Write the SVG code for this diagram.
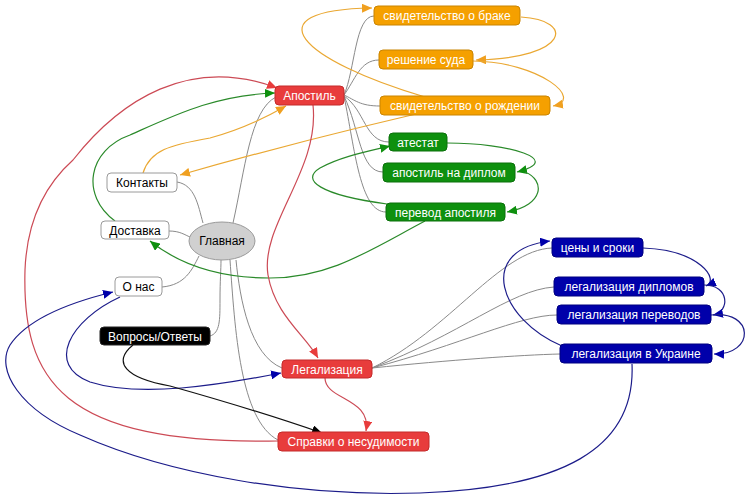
<svg xmlns="http://www.w3.org/2000/svg" width="751" height="498" viewBox="0 0 751 498">
<style>
text{font-family:"Liberation Sans",Arial,sans-serif;font-size:12px;text-anchor:middle}
.t{fill:#fff}
.k{fill:#000}
.g{fill:none;stroke:#8a8a8a;stroke-width:1}
.c{fill:none;stroke-width:1.2}
.or{stroke:#eaa833}
.rd{stroke:#cc4a55}
.gr{stroke:#2a8a2a}
.bl{stroke:#1c1c8a}
.bk{stroke:#111}
.n-or{fill:#f5a000;stroke:#c98400}
.n-rd{fill:#e83c3c;stroke:#c42a2a}
.n-gr{fill:#0e900e;stroke:#0a700a}
.n-bl{fill:#0000aa;stroke:#000080}
.n-bk{fill:#000;stroke:#222}
.n-wh{fill:#fff;stroke:#9a9a9a}
</style>
<defs>
<marker id="a-or" markerUnits="userSpaceOnUse" markerWidth="11" markerHeight="9" refX="10" refY="4.5" orient="auto"><path d="M0,0L10,4.5L0,9z" fill="#f0a020"/></marker>
<marker id="a-rd" markerUnits="userSpaceOnUse" markerWidth="11" markerHeight="9" refX="10" refY="4.5" orient="auto"><path d="M0,0L10,4.5L0,9z" fill="#e83c3c"/></marker>
<marker id="a-gr" markerUnits="userSpaceOnUse" markerWidth="11" markerHeight="9" refX="10" refY="4.5" orient="auto"><path d="M0,0L10,4.5L0,9z" fill="#0e900e"/></marker>
<marker id="a-bl" markerUnits="userSpaceOnUse" markerWidth="11" markerHeight="9" refX="10" refY="4.5" orient="auto"><path d="M0,0L10,4.5L0,9z" fill="#0000aa"/></marker>
<marker id="a-bk" markerUnits="userSpaceOnUse" markerWidth="11" markerHeight="9" refX="10" refY="4.5" orient="auto"><path d="M0,0L10,4.5L0,9z" fill="#000"/></marker>
</defs>
<rect width="751" height="498" fill="#fff"/>
<g id="connectors">
<!-- tree lines from Главная -->
<path class="g" d="M177,182 C195,185 198,205 203,223"/>
<path class="g" d="M169,231 C180,231 185,235 190,237"/>
<path class="g" d="M162,287 C185,285 192,270 199,256"/>
<path class="g" d="M210,336 C220,333 220,320 220,300 C220,280 221,270 221,260"/>
<path class="g" d="M233,223 C245,170 250,110 276,97"/>
<path class="g" d="M236,260 C240,300 250,355 282,368"/>
<path class="g" d="M230,260 C235,330 240,420 278,440"/>
<!-- from Апостиль -->
<path class="g" d="M344,95 C355,70 355,16 374,16"/>
<path class="g" d="M344,95 C355,80 360,60 379,60"/>
<path class="g" d="M344,95 C355,100 360,106 380,106"/>
<path class="g" d="M344,96 C365,110 365,142 389,142"/>
<path class="g" d="M344,96 C360,130 360,172 383,172"/>
<path class="g" d="M344,96 C355,150 360,212 386,212"/>
<!-- from Легализация -->
<path class="g" d="M372,368 C450,330 500,250 552,248"/>
<path class="g" d="M372,368 C460,335 510,290 554,287"/>
<path class="g" d="M372,368 C460,345 520,315 557,315"/>
<path class="g" d="M372,368 C450,360 520,355 560,354"/>
<!-- orange -->
<path class="c or" marker-end="url(#a-or)" d="M425,97 C300,60 250,10 372,8"/>
<path class="c or" marker-end="url(#a-or)" d="M521,17 C575,20 570,58 476,60"/>
<path class="c or" marker-end="url(#a-or)" d="M473,61 C540,62 585,100 553,106"/>
<path class="c or" marker-end="url(#a-or)" d="M465,103 Q320,135 180,175"/>
<path class="c or" marker-end="url(#a-or)" d="M143,173 C150,150 170,145 210,138 C240,130 265,118 286,106"/>
<!-- green -->
<path class="c gr" marker-end="url(#a-gr)" d="M115,221 C80,195 88,150 130,135 C175,115 215,95 275,93"/>
<path class="c gr" marker-end="url(#a-gr)" d="M425,221 C370,250 330,278 270,278 C220,278 180,265 150,241"/>
<path class="c gr" marker-end="url(#a-gr)" d="M447,143 C510,143 565,160 517,172"/>
<path class="c gr" marker-end="url(#a-gr)" d="M525,172 C545,180 545,205 507,212"/>
<path class="c gr" marker-end="url(#a-gr)" d="M387,204 C320,195 300,180 320,168 C340,157 365,152 390,146"/>
<!-- red -->
<path class="c rd" marker-end="url(#a-rd)" d="M313,105 C320,170 260,225 268,275 C275,315 305,335 318,358"/>
<path class="c rd" marker-end="url(#a-rd)" d="M325,378 C325,400 372,398 366,431"/>
<path class="c rd" marker-end="url(#a-rd)" d="M278,441 C60,445 22,380 25,270 C27,220 45,185 73,160 C120,100 190,55 277,88"/>
<!-- blue -->
<path class="c bl" marker-end="url(#a-bl)" d="M643,248 C700,250 720,280 706,286"/>
<path class="c bl" marker-end="url(#a-bl)" d="M704,285 C730,285 730,312 713,315"/>
<path class="c bl" marker-end="url(#a-bl)" d="M711,315 C755,310 755,355 714,354"/>
<path class="c bl" marker-end="url(#a-bl)" d="M562,346 C500,320 475,250 550,241"/>
<path class="c bl" marker-end="url(#a-bl)" d="M632,364 C636,450 560,488 420,493 C300,497 170,475 80,435 C20,410 -5,370 10,345 C30,315 80,300 113,292"/>
<path class="c bl" marker-end="url(#a-bl)" d="M120,297 C70,320 45,365 90,382 C140,398 220,385 281,373"/>
<!-- black -->
<path class="c bk" marker-end="url(#a-bk)" d="M133,345 C112,362 125,378 170,386 C220,400 270,415 322,433"/>
</g>
<g id="n-brak"><rect class="n-or" x="374" y="6" width="146" height="19" rx="4"/><text class="t" x="447" y="20">свидетельство о браке</text></g>
<g id="n-sud"><rect class="n-or" x="379" y="50" width="94" height="19" rx="4"/><text class="t" x="426" y="64">решение суда</text></g>
<g id="n-rozh"><rect class="n-or" x="380" y="96" width="170" height="19" rx="4"/><text class="t" x="465" y="110">свидетельство о рождении</text></g>
<g id="n-apostil"><rect class="n-rd" x="275" y="86" width="69" height="19" rx="4"/><text class="t" x="309.5" y="100">Апостиль</text></g>
<g id="n-atestat"><rect class="n-gr" x="389" y="133" width="58" height="18" rx="4"/><text class="t" x="418" y="146.5">атестат</text></g>
<g id="n-diplom"><rect class="n-gr" x="383" y="163" width="132" height="19" rx="4"/><text class="t" x="449" y="177">апостиль на диплом</text></g>
<g id="n-perevod"><rect class="n-gr" x="386" y="203" width="119" height="18" rx="4"/><text class="t" x="445.5" y="216.5">перевод апостиля</text></g>
<g id="n-kontakty"><rect class="n-wh" x="107" y="173" width="70" height="19" rx="4"/><text class="k" x="142" y="187">Контакты</text></g>
<g id="n-dostavka"><rect class="n-wh" x="101" y="221" width="68" height="18" rx="4"/><text class="k" x="135" y="234.5">Доставка</text></g>
<g id="n-glavnaya"><ellipse cx="222" cy="241" rx="33" ry="19" fill="#d0d0d0" stroke="#9a9a9a"/><text class="k" x="222" y="245">Главная</text></g>
<g id="n-onas"><rect class="n-wh" x="115" y="277" width="47" height="19" rx="4"/><text class="k" x="138.5" y="291">О нас</text></g>
<g id="n-faq"><rect class="n-bk" x="100" y="327" width="110" height="18" rx="4"/><text class="t" x="155" y="340.5">Вопросы/Ответы</text></g>
<g id="n-legal"><rect class="n-rd" x="282" y="360" width="90" height="18" rx="4"/><text class="t" x="327" y="373.5">Легализация</text></g>
<g id="n-spravki"><rect class="n-rd" x="278" y="432" width="151" height="19" rx="4"/><text class="t" x="353.5" y="446">Справки о несудимости</text></g>
<g id="n-ceny"><rect class="n-bl" x="552" y="238" width="91" height="19" rx="4"/><text class="t" x="597.5" y="252">цены и сроки</text></g>
<g id="n-legdip"><rect class="n-bl" x="554" y="277" width="150" height="19" rx="4"/><text class="t" x="629" y="291">легализация дипломов</text></g>
<g id="n-legper"><rect class="n-bl" x="557" y="305" width="154" height="19" rx="4"/><text class="t" x="634" y="319">легализация переводов</text></g>
<g id="n-legukr"><rect class="n-bl" x="560" y="344" width="152" height="19" rx="4"/><text class="t" x="636" y="358">легализация в Украине</text></g>
</svg>
